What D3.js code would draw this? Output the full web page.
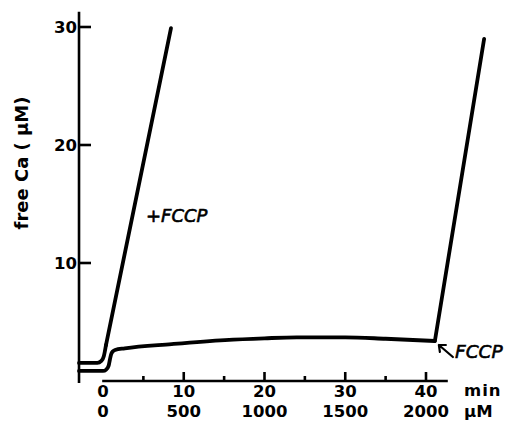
<!DOCTYPE html>
<html>
<head>
<meta charset="utf-8">
<script src="https://cdn.jsdelivr.net/npm/d3@7"></script>
<style>
  html, body { margin: 0; padding: 0; background: #fff; }
  svg text { font-family: "DejaVu Sans", sans-serif; font-weight: bold; fill: #000; }
</style>
</head>
<body>
<svg id="chart" width="511" height="423"></svg>
<script>
// trace with FCCP added at time 0: [min, free Ca µM]
const fccpBend = [
  [-2.97, 1.53], [-0.7, 1.53], [-0.2, 1.7], [0.1, 2.1], [0.37, 3.05]
];
const fccpRise = [[0.37, 3.05], [8.42, 29.9]];
// control trace, FCCP added at ~41 min
const controlBase = [
  [-2.97, 0.85], [0, 0.85], [0.4, 0.97], [0.7, 1.3], [0.85, 1.8], [1.0, 2.25],
  [1.2, 2.5], [1.5, 2.63], [2.7, 2.77], [8.5, 3.13], [15.1, 3.47], [20, 3.62],
  [24, 3.7], [30, 3.7], [35, 3.58], [41.1, 3.39]
];
const controlRise = [[41.1, 3.39], [47.2, 29.0]];
const yTicks = [10, 20, 30];
const xMajor = [0, 10, 20, 30, 40];
const xMinor = [5, 15, 25, 35];
const concLabels = ["0", "500", "1000", "1500", "2000"];

const svg = d3.select("#chart");
const x = d3.scaleLinear().domain([0, 40]).range([103, 426]);
const y = d3.scaleLinear().domain([0, 30]).range([381, 27]);

const axisW = 2.6;
const fs = "16.5px";

// y axis
svg.append("line")
  .attr("x1", x(-2.97)).attr("x2", x(-2.97))
  .attr("y1", y(31.3)).attr("y2", 383)
  .attr("stroke", "#000").attr("stroke-width", axisW);
svg.selectAll(".ytick").data(yTicks).join("line")
  .attr("x1", x(-2.97)).attr("x2", x(-2.97) + 12)
  .attr("y1", d => y(d)).attr("y2", d => y(d))
  .attr("stroke", "#000").attr("stroke-width", axisW);
svg.selectAll(".ylab").data(yTicks).join("text")
  .attr("x", x(-2.97) - 2).attr("y", d => y(d))
  .attr("dy", "0.36em")
  .attr("text-anchor", "end")
  .style("font-size", fs)
  .text(d => d);

// x axis
svg.append("line")
  .attr("x1", x(-0.1)).attr("x2", x(42.7))
  .attr("y1", y(0)).attr("y2", y(0))
  .attr("stroke", "#000").attr("stroke-width", axisW);
svg.selectAll(".xtick").data(xMajor.filter(d => d > 0)).join("line")
  .attr("x1", d => x(d)).attr("x2", d => x(d))
  .attr("y1", y(0)).attr("y2", y(0) - 9)
  .attr("stroke", "#000").attr("stroke-width", axisW);
svg.selectAll(".xminor").data(xMinor).join("line")
  .attr("x1", d => x(d)).attr("x2", d => x(d))
  .attr("y1", y(0)).attr("y2", y(0) - 5)
  .attr("stroke", "#000").attr("stroke-width", axisW);
svg.selectAll(".xlab").data(xMajor).join("text")
  .attr("x", d => x(d)).attr("y", 391)
  .attr("dy", "0.36em").attr("text-anchor", "middle")
  .style("font-size", fs)
  .text(d => d);
svg.selectAll(".clab").data(xMajor).join("text")
  .attr("x", d => x(d)).attr("y", 411)
  .attr("dy", "0.36em").attr("text-anchor", "middle")
  .style("font-size", fs)
  .text((d, i) => concLabels[i]);
svg.append("text").attr("x", 464).attr("y", 390).attr("dy", "0.36em")
  .style("font-size", fs).style("letter-spacing", "1px").text("min");
svg.append("text").attr("x", 464).attr("y", 411).attr("dy", "0.36em")
  .style("font-size", fs).text("μM");

// y label
svg.append("text")
  .attr("transform", "translate(22,163) rotate(-90)")
  .attr("dy", "0.36em").attr("text-anchor", "middle")
  .style("font-size", "18px")
  .text("free Ca ( μM)");

// traces
const smooth = d3.line().x(d => x(d[0])).y(d => y(d[1])).curve(d3.curveMonotoneX);
const straight = d3.line().x(d => x(d[0])).y(d => y(d[1]));
[[fccpBend, smooth], [fccpRise, straight], [controlBase, smooth], [controlRise, straight]].forEach(([tr, gen]) => {
  svg.append("path").attr("d", gen(tr))
    .attr("fill", "none").attr("stroke", "#000")
    .attr("stroke-width", 3.8).attr("stroke-linejoin", "round").attr("stroke-linecap", "round");
});

// annotations
svg.append("text").attr("x", 146).attr("y", 222)
  .style("font-size", "18px").style("font-style", "italic")
  .style("font-weight", "normal").attr("stroke", "#000").attr("stroke-width", 0.6)
  .text("+FCCP");
svg.append("text").attr("x", 455).attr("y", 358)
  .style("font-size", "18.5px").style("font-style", "italic")
  .style("font-weight", "normal").attr("stroke", "#000").attr("stroke-width", 0.6)
  .text("FCCP");
// arrow to FCCP addition point
const cx = x(41.1) + 4, cy = y(3.39) + 4;
svg.append("path")
  .attr("d", `M${cx + 14},${cy + 12} L${cx},${cy} M${cx},${cy} l7,0 M${cx},${cy} l1,7`)
  .attr("fill", "none").attr("stroke", "#000").attr("stroke-width", 2.2).attr("stroke-linecap", "round");
</script>
</body>
</html>
